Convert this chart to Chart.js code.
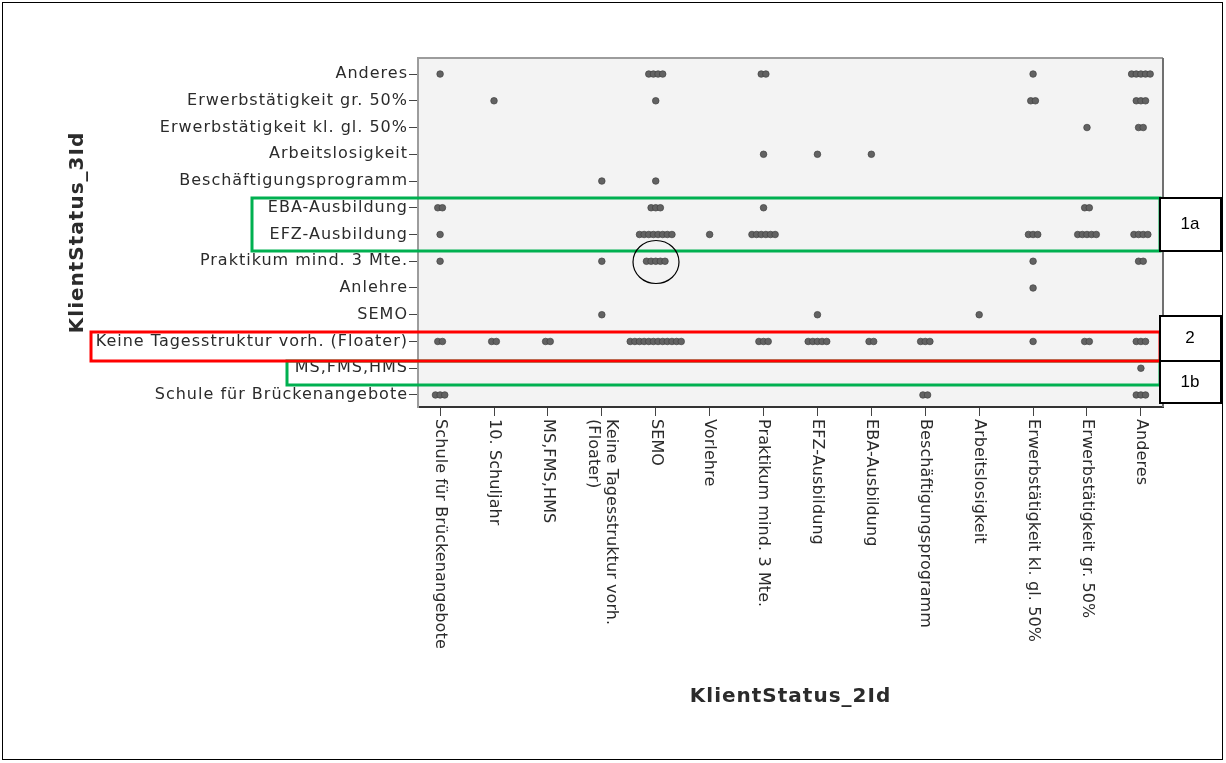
<!DOCTYPE html>
<html>
<head>
<meta charset="utf-8">
<title>KlientStatus_3Id nach KlientStatus_2Id</title>
<script src="https://cdn.jsdelivr.net/npm/chart.js@4.4.1/dist/chart.umd.min.js"></script>
<style>
  html, body { margin: 0; padding: 0; background: #fff; }
  #wrap { width: 1226px; height: 763px; }
</style>
</head>
<body>
<div id="wrap"><canvas id="dotPlot" width="1226" height="763"></canvas></div>
<script>
// x axis categories (KlientStatus_2Id), left to right
const statusBefore = [
    'Schule für Brückenangebote', '10. Schuljahr', 'MS,FMS,HMS',
    ['Keine Tagesstruktur vorh.', '(Floater)'], 'SEMO', 'Vorlehre',
    'Praktikum mind. 3 Mte.', 'EFZ-Ausbildung', 'EBA-Ausbildung',
    'Beschäftigungsprogramm', 'Arbeitslosigkeit', 'Erwerbstätigkeit kl. gl. 50%',
    'Erwerbstätigkeit gr. 50%', 'Anderes'
];

// y axis categories (KlientStatus_3Id), bottom to top
const statusAfter = [
    'Schule für Brückenangebote', 'MS,FMS,HMS', 'Keine Tagesstruktur vorh. (Floater)',
    'SEMO', 'Anlehre', 'Praktikum mind. 3 Mte.', 'EFZ-Ausbildung', 'EBA-Ausbildung',
    'Beschäftigungsprogramm', 'Arbeitslosigkeit', 'Erwerbstätigkeit kl. gl. 50%',
    'Erwerbstätigkeit gr. 50%', 'Anderes'
];

// clients per cell, one array per y category, columns follow statusBefore
const rowSchule      = [3, 0, 0, 0, 0, 0, 0, 0, 0, 2, 0, 0, 0, 3];
const rowMS          = [0, 0, 0, 0, 0, 0, 0, 0, 0, 0, 0, 0, 0, 1];
const rowKeine       = [2, 2, 2, 0, 12, 0, 3, 5, 2, 3, 0, 1, 2, 3];
const rowSemo        = [0, 0, 0, 1, 0, 0, 0, 1, 0, 0, 1, 0, 0, 0];
const rowAnlehre     = [0, 0, 0, 0, 0, 0, 0, 0, 0, 0, 0, 1, 0, 0];
const rowPraktikum   = [1, 0, 0, 1, 5, 0, 0, 0, 0, 0, 0, 1, 0, 2];
const rowEfz         = [1, 0, 0, 0, 8, 1, 6, 0, 0, 0, 0, 3, 5, 4];
const rowEba         = [2, 0, 0, 0, 3, 0, 1, 0, 0, 0, 0, 0, 2, 0];
const rowBeschaeft   = [0, 0, 0, 1, 1, 0, 0, 0, 0, 0, 0, 0, 0, 0];
const rowArbeitslos  = [0, 0, 0, 0, 0, 0, 1, 1, 1, 0, 0, 0, 0, 0];
const rowErwerbKl    = [0, 0, 0, 0, 0, 0, 0, 0, 0, 0, 0, 0, 1, 2];
const rowErwerbGr    = [0, 1, 0, 0, 1, 0, 0, 0, 0, 0, 0, 2, 0, 3];
const rowAnderes     = [1, 0, 0, 0, 4, 0, 2, 0, 0, 0, 0, 1, 0, 5];

const rowCounts = [
    rowSchule, rowMS, rowKeine, rowSemo, rowAnlehre, rowPraktikum, rowEfz,
    rowEba, rowBeschaeft, rowArbeitslos, rowErwerbKl, rowErwerbGr, rowAnderes
];

// stacked dots: one point per client, spread sideways around the category
const DOT_STEP = 0.086;
const points = [];
rowCounts.forEach((row, y) => {
    row.forEach((n, x) => {
        for (let k = 0; k < n; k++) {
            points.push({ x: x + (k - (n - 1) / 2) * DOT_STEP, y });
        }
    });
});

const TEXT = '#2b2b2b';
const LABEL_FONT = '16px "DejaVu Sans"';

// grey plot background and frame
const plotFrame = {
    id: 'plotFrame',
    beforeDraw(chart) {
        const { ctx, chartArea: a } = chart;
        // wide spacing for the texts Chart.js draws (y ticks, titles)
        ctx.letterSpacing = '1px';
        ctx.save();
        ctx.fillStyle = '#f3f3f3';
        ctx.fillRect(a.left, a.top, a.right - a.left, a.bottom - a.top);
        ctx.restore();
    },
    beforeDatasetsDraw(chart) {
        const { ctx, chartArea: a } = chart;
        ctx.save();
        ctx.lineWidth = 2;
        ctx.strokeStyle = '#9c9c9c';
        ctx.beginPath();
        ctx.moveTo(a.left, a.top);
        ctx.lineTo(a.right, a.top);
        ctx.stroke();
        ctx.strokeStyle = '#707070';
        ctx.beginPath();
        ctx.moveTo(a.right, a.top);
        ctx.lineTo(a.right, a.bottom);
        ctx.stroke();
        ctx.restore();
    }
};

// vertical x tick labels, reading top to bottom
const xLabels = {
    id: 'xLabels',
    afterDraw(chart) {
        const { ctx, scales: { x }, chartArea: a } = chart;
        ctx.save();
        ctx.letterSpacing = '0.1px';
        ctx.font = LABEL_FONT;
        ctx.fillStyle = TEXT;
        ctx.textAlign = 'left';
        ctx.textBaseline = 'middle';
        statusBefore.forEach((label, i) => {
            const lines = Array.isArray(label) ? label : [label];
            const px = x.getPixelForValue(i);
            lines.forEach((line, j) => {
                const off = (lines.length - 1) * 9 - j * 18;
                ctx.save();
                ctx.translate(px + off, a.bottom + 12);
                ctx.rotate(Math.PI / 2);
                ctx.fillText(line, 0, 0);
                ctx.restore();
            });
        });
        ctx.restore();
    }
};

// markings drawn over the figure
const markings = {
    id: 'markings',
    afterDraw(chart) {
        const { ctx } = chart;
        ctx.save();
        ctx.letterSpacing = '0px';
        ctx.lineWidth = 3;
        ctx.strokeStyle = '#00b050';
        ctx.strokeRect(252, 198, 908, 53);
        ctx.strokeRect(287, 361, 873, 24);
        ctx.strokeStyle = '#ff0000';
        ctx.strokeRect(91, 332, 1069, 29);

        ctx.lineWidth = 2;
        ctx.strokeStyle = '#000';
        ctx.font = '17px "Liberation Sans"';
        ctx.textAlign = 'center';
        ctx.textBaseline = 'middle';
        [['1a', 198, 251], ['2', 316, 361], ['1b', 361, 403]].forEach(([txt, top, bottom]) => {
            ctx.fillStyle = '#fff';
            ctx.fillRect(1160, top, 61, bottom - top);
            ctx.strokeRect(1160, top, 61, bottom - top);
            ctx.fillStyle = '#000';
            ctx.fillText(txt, 1190, (top + bottom) / 2);
        });

        ctx.lineWidth = 1.2;
        ctx.beginPath();
        ctx.ellipse(656, 262, 23, 21.5, 0, 0, Math.PI * 2);
        ctx.stroke();

        ctx.lineWidth = 1;
        ctx.strokeRect(2.5, 2.5, 1220, 757);
        ctx.restore();
    }
};

new Chart(document.getElementById('dotPlot'), {
    type: 'scatter',
    data: {
        datasets: [{
            data: points,
            pointRadius: 3.3,
            pointBackgroundColor: '#626262',
            pointBorderColor: '#404040',
            pointBorderWidth: 0.7
        }]
    },
    options: {
        responsive: false,
        animation: false,
        events: [],
        layout: { padding: { top: 58, right: 63, bottom: 0, left: 0 } },
        plugins: { legend: { display: false }, tooltip: { enabled: false } },
        scales: {
            x: {
                type: 'linear',
                min: -0.41,
                max: 13.41,
                afterBuildTicks: s => { s.ticks = statusBefore.map((_, i) => ({ value: i })); },
                afterFit: s => { s.height = 356; },
                ticks: { display: false },
                grid: { drawOnChartArea: false, tickLength: 9, color: '#444' },
                border: { color: '#333', width: 2 },
                title: {
                    display: true,
                    text: 'KlientStatus_2Id',
                    color: TEXT,
                    font: { family: 'DejaVu Sans', size: 20, weight: 'bold' },
                    padding: { bottom: 54 }
                }
            },
            y: {
                type: 'linear',
                min: -0.45,
                max: 12.6,
                afterBuildTicks: s => { s.ticks = statusAfter.map((_, i) => ({ value: i })); },
                afterFit: s => { s.width = 418; },
                ticks: {
                    color: TEXT,
                    font: { family: 'DejaVu Sans', size: 16 },
                    padding: 1,
                    callback: v => statusAfter[v]
                },
                grid: { drawOnChartArea: false, tickLength: 9, color: '#444' },
                border: { color: '#9c9c9c', width: 2 },
                title: {
                    display: true,
                    text: 'KlientStatus_3Id',
                    color: TEXT,
                    font: { family: 'DejaVu Sans', size: 20, weight: 'bold' },
                    padding: { top: 66 }
                }
            }
        }
    },
    plugins: [plotFrame, xLabels, markings]
});
</script>
</body>
</html>
